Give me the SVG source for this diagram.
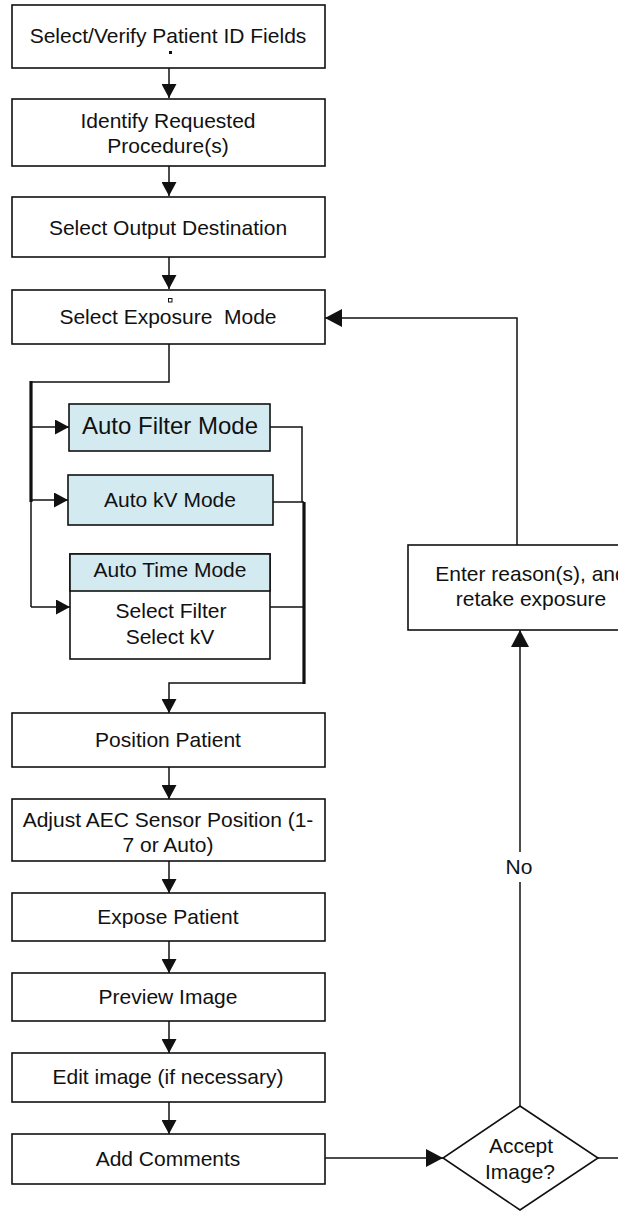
<svg xmlns="http://www.w3.org/2000/svg" width="618" height="1213" viewBox="0 0 618 1213">
<style>
  .box{fill:#fff;stroke:#111;stroke-width:1.6}
  .mode{fill:#d3eaf1;stroke:#111;stroke-width:1.6}
  .t{font-family:"Liberation Sans",Arial,sans-serif;font-size:21px;fill:#111;text-anchor:middle}
  .big{font-size:24px}
  .ln{fill:none;stroke:#111;stroke-width:1.5}
  .thick{fill:none;stroke:#111;stroke-width:3.2}
  .a{marker-end:url(#ah)}
  .A{marker-end:url(#AH)}
</style>
<defs>
  <marker id="ah" markerUnits="userSpaceOnUse" markerWidth="15" markerHeight="15" refX="14" refY="7.5" orient="auto">
    <path d="M0,0 L14,7.5 L0,15 z" fill="#111"/>
  </marker>
  <marker id="AH" markerUnits="userSpaceOnUse" markerWidth="18" markerHeight="18" refX="17" refY="9" orient="auto">
    <path d="M0,0 L17,9 L0,18 z" fill="#111"/>
  </marker>
</defs>
<rect width="618" height="1213" fill="#fff"/>

<g id="connectors">
  <path class="ln a" d="M169,68 V98"/>
  <path class="ln a" d="M169,166 V196"/>
  <path class="ln a" d="M169,257 V289"/>
  <path class="ln" d="M169,344 V382 H31"/>
  <path class="thick" d="M31,381 V502"/>
  <path class="ln" d="M31,502 V607"/>
  <path class="ln a" d="M31,427 H69"/>
  <path class="ln a" d="M31,500 H68"/>
  <path class="ln a" d="M31,607 H70"/>
  <path class="ln" d="M270,427 H302 V502"/>
  <path class="ln" d="M273,502 H304"/>
  <path class="thick" d="M304,502 V684"/>
  <path class="ln" d="M270,607 H304"/>
  <path class="ln a" d="M304,683 H169 V713"/>
  <path class="ln a" d="M169,767 V799"/>
  <path class="ln a" d="M169,861 V893"/>
  <path class="ln a" d="M169,941 V973"/>
  <path class="ln a" d="M169,1021 V1053"/>
  <path class="ln a" d="M169,1102 V1134"/>
  <path class="ln A" d="M325,1158 H443"/>
  <path class="ln" d="M598,1158 H618"/>
  <path class="ln" d="M520,1106 V882"/>
  <path class="ln A" d="M520,852 V630"/>
  <text class="t" x="519" y="874">No</text>
  <path class="ln A" d="M517,545 V318 H325"/>
</g>

<g id="n1">
  <rect class="box" x="12" y="5" width="313" height="63"/>
  <text class="t" x="168" y="43">Select/Verify Patient ID Fields</text>
  <rect x="169" y="51" width="3" height="3" fill="#111"/>
</g>
<g id="n2">
  <rect class="box" x="12" y="99" width="313" height="67"/>
  <text class="t" x="168" y="128">Identify Requested</text>
  <text class="t" x="168" y="153">Procedure(s)</text>
</g>
<g id="n3">
  <rect class="box" x="12" y="197" width="313" height="60"/>
  <text class="t" x="168" y="235">Select Output Destination</text>
</g>
<g id="n4">
  <rect class="box" x="12" y="290" width="313" height="54"/>
  <rect x="168.5" y="298.5" width="3.5" height="3.5" fill="#fff" stroke="#111" stroke-width="1"/>
  <text class="t" x="168" y="324" style="white-space:pre">Select Exposure  Mode</text>
</g>
<g id="n5">
  <rect class="mode" x="69" y="404" width="201" height="47"/>
  <text class="t big" x="170" y="434">Auto Filter Mode</text>
</g>
<g id="n6">
  <rect class="mode" x="68" y="475" width="205" height="50"/>
  <text class="t" x="170" y="507">Auto kV Mode</text>
</g>
<g id="n7">
  <rect class="box" x="70" y="554" width="200" height="105"/>
  <rect class="mode" x="70" y="554" width="200" height="37"/>
  <text class="t" x="170" y="577">Auto Time Mode</text>
  <text class="t" x="171" y="618">Select Filter</text>
  <text class="t" x="170" y="644">Select kV</text>
</g>
<g id="n8">
  <rect class="box" x="12" y="713" width="313" height="54"/>
  <text class="t" x="168" y="747">Position Patient</text>
</g>
<g id="n9">
  <rect class="box" x="12" y="799" width="313" height="62"/>
  <text class="t" x="168" y="827">Adjust AEC Sensor Position (1-</text>
  <text class="t" x="168" y="852">7 or Auto)</text>
</g>
<g id="n10">
  <rect class="box" x="12" y="893" width="313" height="48"/>
  <text class="t" x="168" y="924">Expose Patient</text>
</g>
<g id="n11">
  <rect class="box" x="12" y="973" width="313" height="48"/>
  <text class="t" x="168" y="1004">Preview Image</text>
</g>
<g id="n12">
  <rect class="box" x="12" y="1053" width="313" height="49"/>
  <text class="t" x="168" y="1084">Edit image (if necessary)</text>
</g>
<g id="n13">
  <rect class="box" x="12" y="1134" width="313" height="50"/>
  <text class="t" x="168" y="1166">Add Comments</text>
</g>
<g id="n14">
  <polygon class="box" points="520,1106 598,1158 520,1210 443,1158"/>
  <text class="t" x="521" y="1153">Accept</text>
  <text class="t" x="520" y="1179">Image?</text>
</g>
<g id="n15">
  <rect class="box" x="408" y="545" width="244" height="85"/>
  <text class="t" x="531" y="581">Enter reason(s), and</text>
  <text class="t" x="531" y="606">retake exposure</text>
</g>
</svg>
